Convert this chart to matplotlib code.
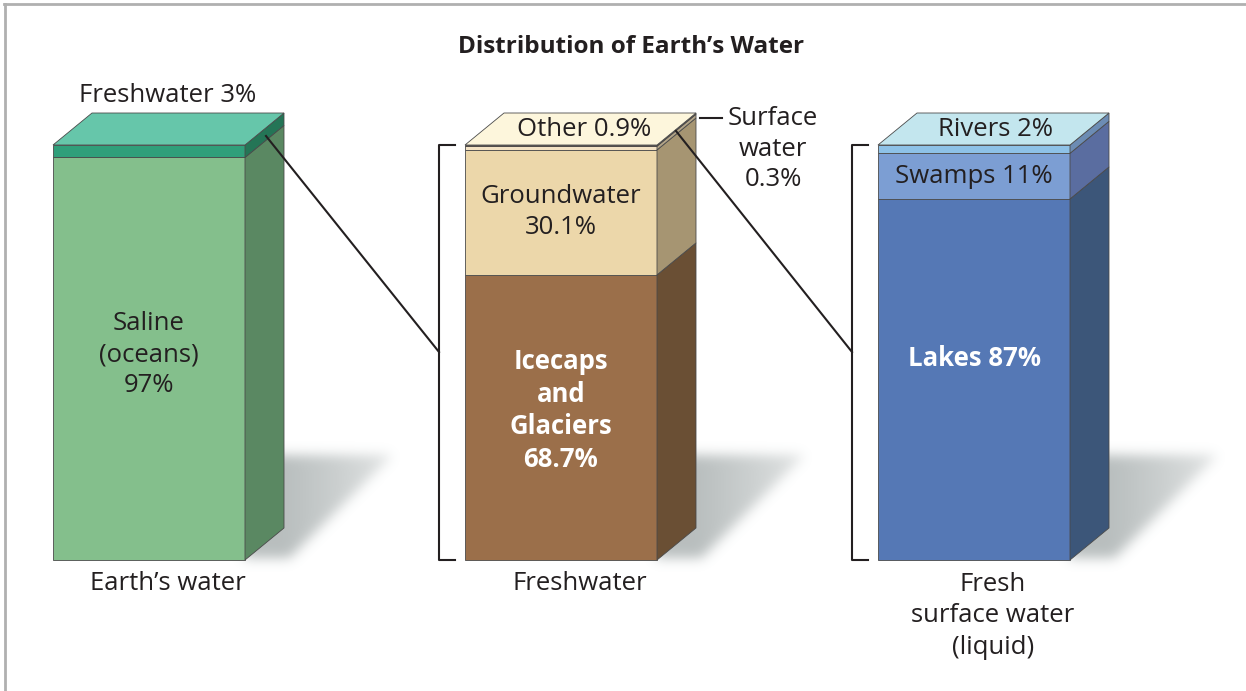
import numpy as np
import matplotlib.pyplot as plt
from matplotlib.patches import Polygon
from matplotlib.path import Path

plt.rcParams['font.family'] = ['Open Sans', 'DejaVu Sans']

# data
earth_labels = ['Saline (oceans)', 'Freshwater']
earth_values = [97, 3]
fresh_labels = ['Icecaps and Glaciers', 'Groundwater', 'Other', 'Surface water']
fresh_values = [68.7, 30.1, 0.9, 0.3]
surface_labels = ['Lakes', 'Swamps', 'Rivers']
surface_values = [87, 11, 2]

earth_front = ['#84bf8c', '#2f9f7a']
earth_side = ['#5a8862', '#247556']
fresh_front = ['#9b6f4a', '#ecd7aa', '#f3e2c4', '#8c5e48']
fresh_side = ['#6a4f34', '#a69572', '#b3a487', '#7a5644']
surface_front = ['#5578b5', '#7c9ed3', '#8ec2e7']
surface_side = ['#3c5679', '#5a6da0', '#6c8cb4']
tops = ['#66c6aa', '#fdf6dc', '#c3e6ee']

W, H = 1246, 691
bar_left = [53, 465, 878]
bar_w, bar_bottom, bar_h = 192, 560, 415
depth_x, depth_y = 39, 32
dx = depth_x / bar_w
dy = depth_y / bar_h * 100

fig = plt.figure(figsize=(W / 100, H / 100), dpi=100)

# background: frame + shadows
bg = fig.add_axes([0, 0, 1, 1], zorder=0)
bg.axis('off')
bg.plot([4, W], [4, 4], color='#b0b0b0', lw=2)
bg.plot([5, 5], [4, H], color='#b0b0b0', lw=2)

yy, xx = np.mgrid[0:H, 0:W]
pts = np.column_stack([xx.ravel() + 0.5, yy.ravel() + 0.5])
alpha = np.zeros((H, W))
for x0 in bar_left:
    xs = x0 + bar_w + depth_x
    p = Path([(xs - 40, 455), (xs + 108, 455), (xs + 5, 558), (xs - 40, 558)])
    m = p.contains_points(pts).reshape(H, W).astype(float)
    fade = np.clip(1 - (xx - xs) / 150.0, 0, 1) ** 0.7
    alpha = np.maximum(alpha, m * fade)
k = np.exp(-0.5 * (np.arange(-18, 19) / 6.0) ** 2)
k /= k.sum()
alpha = np.apply_along_axis(lambda r: np.convolve(r, k, mode='same'), 1, alpha)
alpha = np.apply_along_axis(lambda c: np.convolve(c, k, mode='same'), 0, alpha)
shadow = np.zeros((H, W, 4))
shadow[..., 0] = 0.5
shadow[..., 1] = 0.54
shadow[..., 2] = 0.54
shadow[..., 3] = alpha * 0.55
bg.imshow(shadow, extent=(0, W, H, 0), interpolation='bilinear')
bg.set_xlim(0, W)
bg.set_ylim(H, 0)

ec = '#4a4a4a'


def draw_bar(x0, values, front, side, top):
    ax = fig.add_axes([x0 / W, (H - bar_bottom) / H, bar_w / W, bar_h / H], zorder=1)
    ax.set_xlim(0, 1)
    ax.set_ylim(0, 100)
    ax.axis('off')
    bottoms = np.concatenate([[0], np.cumsum(values)[:-1]])
    ax.bar(0.5, values, width=1, bottom=bottoms, color=front,
           edgecolor=ec, linewidth=0.6, clip_on=False)
    for b, v, c in zip(bottoms, values, side):
        ax.add_patch(Polygon([(1, b), (1 + dx, b + dy), (1 + dx, b + v + dy), (1, b + v)],
                             closed=True, facecolor=c, edgecolor=ec, lw=0.6, clip_on=False))
    total = sum(values)
    ax.add_patch(Polygon([(0, total), (dx, total + dy), (1 + dx, total + dy), (1, total)],
                         closed=True, facecolor=top, edgecolor=ec, lw=0.6, clip_on=False))
    return ax, bottoms


fs = 18.5
tc = '#231f20'
ax1, b1 = draw_bar(bar_left[0], earth_values, earth_front, earth_side, tops[0])
ax1.text(0.5, b1[0] + earth_values[0] / 2 + 1, 'Saline\n(oceans)\n%d%%' % earth_values[0],
         ha='center', va='center', fontsize=fs, color=tc, linespacing=1.32)

ax2, b2 = draw_bar(bar_left[1], fresh_values, fresh_front, fresh_side, tops[1])
ax2.text(0.5, 36, 'Icecaps\nand\nGlaciers\n%.1f%%' % fresh_values[0],
         ha='center', va='center', fontsize=fs, color='white', fontweight='bold',
         linespacing=1.27)
ax2.text(0.5, b2[1] + fresh_values[1] / 2, 'Groundwater\n%.1f%%' % fresh_values[1],
         ha='center', va='center', fontsize=fs, color=tc, linespacing=1.32)
ax2.text(0.5 + dx / 2 + 0.02, 100 + dy / 2, 'Other %.1f%%' % fresh_values[2],
         ha='center', va='center', fontsize=fs, color=tc)

ax3, b3 = draw_bar(bar_left[2], surface_values, surface_front, surface_side, tops[2])
ax3.text(0.5, 48.5, 'Lakes %d%%' % surface_values[0], ha='center', va='center',
         fontsize=fs, color='white', fontweight='bold')
ax3.text(0.5, b3[1] + surface_values[1] / 2, 'Swamps %d%%' % surface_values[1],
         ha='center', va='center', fontsize=fs, color=tc)
ax3.text(0.5 + dx / 2 + 0.01, 100 + dy / 2, 'Rivers %d%%' % surface_values[2],
         ha='center', va='center', fontsize=fs, color=tc)

# overlay: brackets, connectors, labels
ov = fig.add_axes([0, 0, 1, 1], zorder=2)
ov.set_xlim(0, W)
ov.set_ylim(H, 0)
ov.axis('off')
ov.patch.set_alpha(0)

for bx in [439, 852]:
    ov.plot([bx + 16, bx, bx, bx + 16], [145, 145, 560, 560], color=tc, lw=1.5)
ov.plot([266, 439], [136, 352], color=tc, lw=1.5)
ov.plot([676, 852], [131, 352], color=tc, lw=1.5)
ov.plot([700, 722], [118, 118], color=tc, lw=1.5)

ov.text(631, 47, 'Distribution of Earth\u2019s Water', ha='center', va='center',
        fontsize=17.5, fontweight='bold', color=tc)
ov.text(168, 95, 'Freshwater %d%%' % earth_values[1], ha='center', va='center',
        fontsize=fs, color=tc)
ov.text(773, 149, 'Surface\nwater\n%.1f%%' % fresh_values[3], ha='center', va='center',
        fontsize=fs, color=tc, linespacing=1.27)
ov.text(168, 583, 'Earth\u2019s water', ha='center', va='center', fontsize=fs, color=tc)
ov.text(580, 583, 'Freshwater', ha='center', va='center', fontsize=fs, color=tc)
ov.text(993, 616, 'Fresh\nsurface water\n(liquid)', ha='center', va='center',
        fontsize=fs, color=tc, linespacing=1.32)

fig.savefig('out.png', dpi=100)
